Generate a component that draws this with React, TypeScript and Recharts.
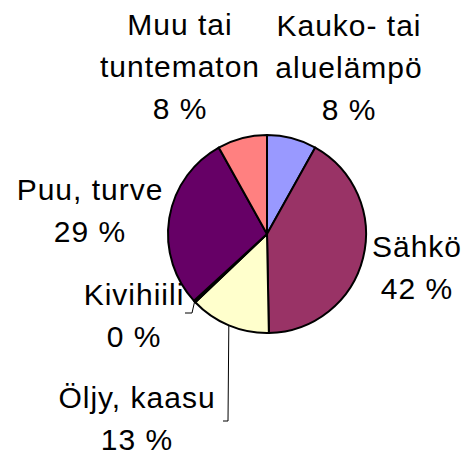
import { PieChart, Pie, Cell } from "recharts";

const categories = ["Kauko- tai\naluelämpö", "Sähkö", "Öljy, kaasu", "Kivihiili", "Puu, turve", "Muu tai\ntuntematon"];
const shares = [8.1, 41.6, 13.2, 0.3, 28.7, 8.1];
const colors = ["#9999FF", "#993366", "#FFFFCC", "#CCFFFF", "#660066", "#FF8080"];

// where each label block sits, relative to the pie centre (centre x, first baseline)
const labelLayout = [
  { dx: 82, dy: -198 },
  { dx: 150, dy: 23 },
  { dx: -130, dy: 174 },
  { dx: -133, dy: 71 },
  { dx: -177, dy: -34 },
  { dx: -87, dy: -199 },
];
// elbow points for leader lines (relative to centre)
const leaders: Record<number, [number, number][]> = {
  2: [[-39, 187], [-44, 187]],
  3: [[-75, 79], [-82, 79]],
};

const data = categories.map((name, i) => ({ name, value: shares[i] }));
const RADIAN = Math.PI / 180;
const LINE = 42;

function renderLabel(props: any) {
  const { cx, cy, midAngle, outerRadius, index } = props;
  const lay = labelLayout[index];
  const lines = [...categories[index].split("\n"), `${Math.round(shares[index])} %`];
  const x = cx + lay.dx;
  const y = cy + lay.dy;
  const leader = leaders[index];
  let path = null;
  if (leader) {
    const sx = cx + outerRadius * Math.cos(-midAngle * RADIAN);
    const sy = cy + outerRadius * Math.sin(-midAngle * RADIAN);
    const pts = [[sx, sy], ...leader.map(([a, b]) => [cx + a, cy + b])];
    path = <polyline points={pts.map((p) => p.join(",")).join(" ")} fill="none" stroke="#000" strokeWidth={1} />;
  }
  return (
    <g key={`lbl-${index}`}>
      {path}
      <text
        x={x}
        y={y}
        textAnchor="middle"
        fill="#000"
        fontSize={30}
        letterSpacing={1}
        fontFamily="'Liberation Sans', Arial, sans-serif"
      >
        {lines.map((t, i) => (
          <tspan key={i} x={x} dy={i === 0 ? 0 : LINE}>{t}</tspan>
        ))}
      </text>
    </g>
  );
}

export default function App() {
  return (
    <div style={{ position: "absolute", left: 0, top: 0, width: 468, height: 455, background: "#fff" }}>
      <PieChart width={468} height={455} margin={{ top: 0, right: 0, bottom: 0, left: 0 }}>
        <Pie
          data={data}
          dataKey="value"
          cx={267}
          cy={234}
          outerRadius={99}
          startAngle={90}
          endAngle={-270}
          stroke="#000"
          strokeWidth={2}
          label={renderLabel}
          labelLine={false}
          isAnimationActive={false}
        >
          {data.map((d, i) => (
            <Cell key={d.name} fill={colors[i]} />
          ))}
        </Pie>
      </PieChart>
    </div>
  );
}
